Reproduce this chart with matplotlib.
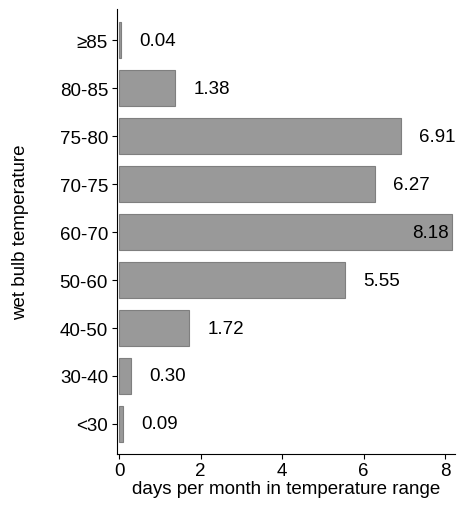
import matplotlib
matplotlib.use("Agg")
import matplotlib.pyplot as plt

plt.rcParams['font.family'] = ['Liberation Sans', 'DejaVu Sans']

# categories from bottom to top
categories = ['<30', '30-40', '40-50', '50-60', '60-70', '70-75', '75-80', '80-85', '≥85']
values = [0.09, 0.30, 1.72, 5.55, 8.18, 6.27, 6.91, 1.38, 0.04]

fs = 13.5
fig = plt.figure(figsize=(4.72, 5.06), dpi=100)
ax = fig.add_axes([0.248, 0.101, 0.716, 0.879])

pos = list(range(len(categories)))
ax.barh(pos, values, height=0.75, color='#999999', edgecolor='#7f7f7f', linewidth=0.8)

for p, v in zip(pos, values):
    if v > 8:
        ax.text(v - 0.1, p, '%.2f' % v, ha='right', va='center', fontsize=fs)
    else:
        ax.text(v + 0.45, p, '%.2f' % v, ha='left', va='center', fontsize=fs)

ax.set_yticks(pos)
ax.set_yticklabels(categories, fontsize=fs)
ax.set_xticks([0, 2, 4, 6, 8])
ax.tick_params(axis='x', labelsize=fs, pad=2)
ax.tick_params(axis='y', pad=3)
ax.set_xlim(-0.05, 8.245)
ax.set_ylim(-0.625, 8.65)
ax.spines['top'].set_visible(False)
ax.spines['right'].set_visible(False)
ax.set_xlabel('days per month in temperature range', fontsize=fs, labelpad=1)
ax.set_ylabel('wet bulb temperature', fontsize=fs)
ax.yaxis.set_label_coords(-0.26, 0.5)

fig.savefig('out.png', dpi=100)
